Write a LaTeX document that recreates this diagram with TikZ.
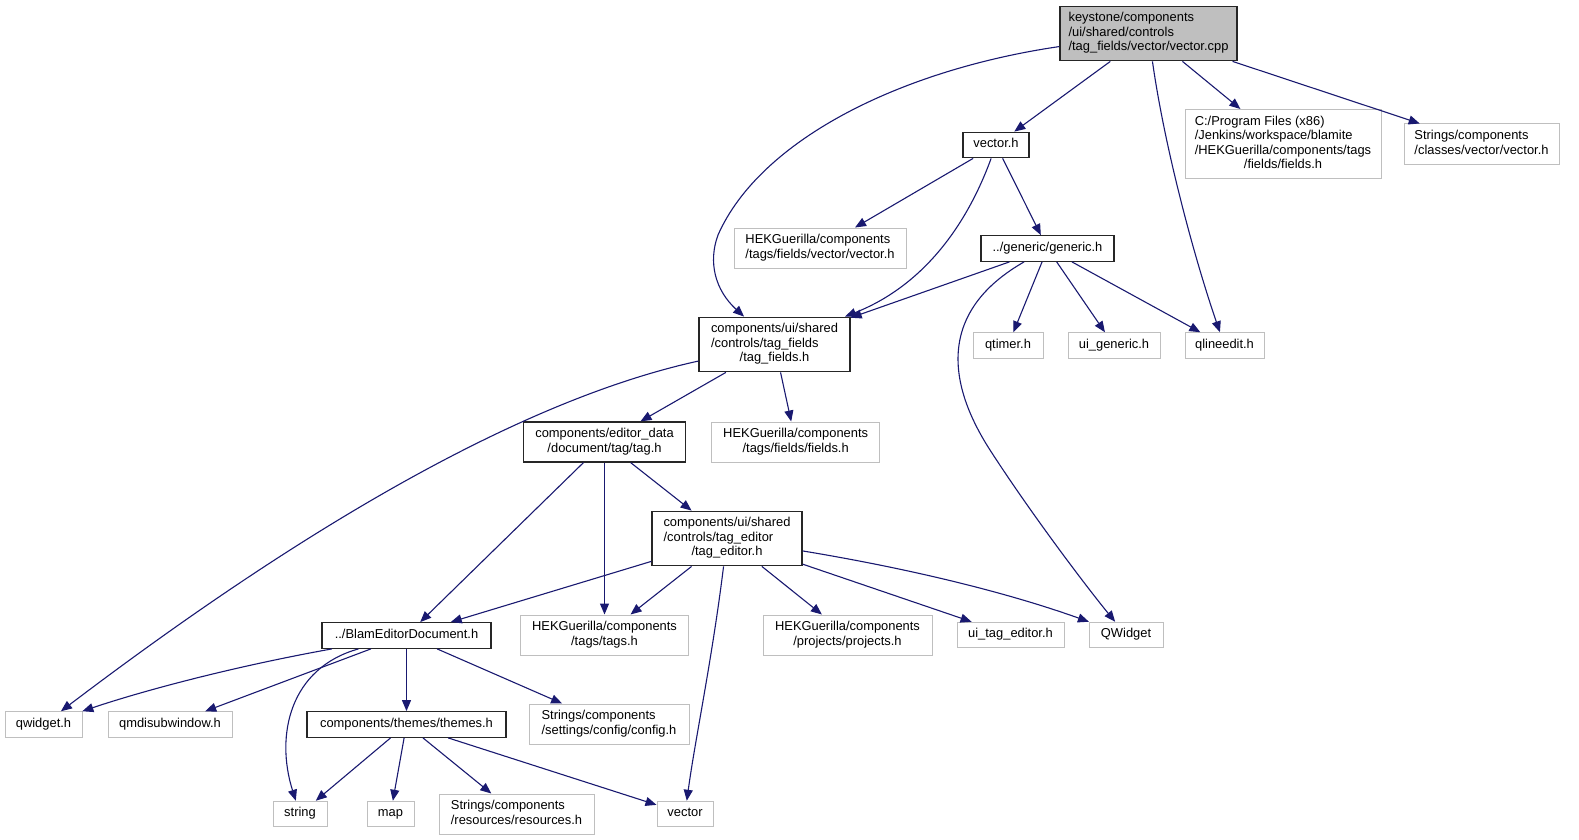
\documentclass[tikz,border=0pt]{standalone}
\usepackage{fontspec}
\setmainfont{Liberation Sans}
\usetikzlibrary{positioning}
\usetikzlibrary{arrows.meta}

\definecolor{edgeblue}{HTML}{191970}
\definecolor{leafgray}{HTML}{BFBFBF}

\newcommand{\flines}[2]{\begin{tabular}{@{}l@{}}#1\\\multicolumn{1}{@{}c@{}}{#2}\end{tabular}}
\newcommand{\fline}[1]{\begin{tabular}{@{}c@{}}#1\end{tabular}}

\begin{document}
\begin{tikzpicture}
	[x=1pt,y=-1pt,node distance=24pt,font=\fontsize{12.9}{14.5}\selectfont,
	file/.style={rectangle,inner xsep=3pt,inner ysep=5.5pt},
	incl/.style={file,draw=black!85,line width=1.3pt},
	leaf/.style={file,draw=leafgray,line width=1pt},
	root/.style={incl,fill=leafgray},
	dep/.style={draw=edgeblue,line width=1.1pt,-{Triangle[length=11pt,width=9pt]}}]
	\useasboundingbox (0,0) rectangle (1579,840);
	\node[root,minimum width=177pt] (cpp) at (1148.5,33.5) {\flines{keystone/components\\/ui/shared/controls}{/tag\_fields/vector/vector.cpp}};
	\node[incl,minimum width=66pt] (vech) at (996,145) {\fline{vector.h}};
	\node[leaf,minimum width=196pt] (fieldsabs) at (1283,144) {\flines{C:/Program Files (x86)\\/Jenkins/workspace/blamite\\/HEKGuerilla/components/tags}{/fields/fields.h}};
	\node[leaf,minimum width=155pt] (strvec) [right=22pt of fieldsabs] {\flines{Strings/components}{/classes/vector/vector.h}};
	\node[leaf,minimum width=172pt] (hekvec) at (820,248) {\flines{HEKGuerilla/components}{/tags/fields/vector/vector.h}};
	\node[incl,minimum width=133pt] (generic) at (1047.5,248.5) {\fline{../generic/generic.h}};
	\node[incl,minimum width=151pt] (tagfields) at (774.5,344.5) {\flines{components/ui/shared\\/controls/tag\_fields}{/tag\_fields.h}};
	\node[leaf,minimum width=70pt] (qtimer) at (1008,345.5) {\fline{qtimer.h}};
	\node[leaf,minimum width=92pt] (uigeneric) [right=of qtimer] {\fline{ui\_generic.h}};
	\node[leaf,minimum width=79pt] (qlineedit) [right=of uigeneric] {\fline{qlineedit.h}};
	\node[incl,minimum width=162pt] (tagh) at (604.5,442) {\flines{components/editor\_data}{/document/tag/tag.h}};
	\node[leaf,minimum width=168pt] (hekfields) [right=25pt of tagh] {\flines{HEKGuerilla/components}{/tags/fields/fields.h}};
	\node[incl,minimum width=150pt] (tageditor) at (727,538.5) {\flines{components/ui/shared\\/controls/tag\_editor}{/tag\_editor.h}};
	\node[incl,minimum width=169pt] (blam) at (406.5,635.5) {\fline{../BlamEditorDocument.h}};
	\node[leaf,minimum width=168pt] (hektags) at (604.5,635) {\flines{HEKGuerilla/components}{/tags/tags.h}};
	\node[leaf,minimum width=169pt] (projects) at (847.5,635) {\flines{HEKGuerilla/components}{/projects/projects.h}};
	\node[leaf,minimum width=107pt] (uitageditor) [right=of projects] {\fline{ui\_tag\_editor.h}};
	\node[leaf,minimum width=74pt] (qwidgetcls) [right=of uitageditor] {\fline{QWidget}};
	\node[leaf,minimum width=77pt] (qwidget) at (43.5,724.5) {\fline{qwidget.h}};
	\node[leaf,minimum width=124pt] (qmdi) [right=25pt of qwidget] {\fline{qmdisubwindow.h}};
	\node[incl,minimum width=199pt] (themes) at (406.5,724.5) {\fline{components/themes/themes.h}};
	\node[leaf,minimum width=160pt] (config) at (609,724) {\flines{Strings/components}{/settings/config/config.h}};
	\node[leaf,minimum width=54pt] (string) at (300,814) {\fline{string}};
	\node[leaf,minimum width=47pt] (map) at (390.5,814) {\fline{map}};
	\node[leaf,minimum width=155pt] (resources) [right=of map] {\flines{Strings/components}{/resources/resources.h}};
	\node[leaf,minimum width=56pt] (vector) at (685,814) {\fline{vector}};
	\draw[dep] (cpp) .. controls (900,70) and (760,140) .. (718,235) .. controls (708,262) and (715,290) .. (tagfields);
	\draw[dep] (cpp) -- (vech);
	\draw[dep] (cpp) .. controls (1165,150) and (1195,260) .. (qlineedit);
	\draw[dep] (cpp) -- (fieldsabs);
	\draw[dep] (cpp) -- (strvec);
	\draw[dep] (vech) -- (hekvec);
	\draw[dep] (vech) .. controls (965,230) and (920,287) .. (tagfields);
	\draw[dep] (vech) -- (generic);
	\draw[dep] (generic) -- (tagfields);
	\draw[dep] (generic) -- (qtimer);
	\draw[dep] (generic) -- (uigeneric);
	\draw[dep] (generic) -- (qlineedit);
	\draw[dep] (generic) .. controls (940,310) and (945,380) .. (990,450) .. controls (1030,512) and (1085,585) .. (qwidgetcls);
	\draw[dep] (tagfields) .. controls (520,400) and (300,530) .. (qwidget);
	\draw[dep] (tagfields) -- (tagh);
	\draw[dep] (tagfields) -- (hekfields);
	\draw[dep] (tagh) -- (blam);
	\draw[dep] (tagh) -- (hektags);
	\draw[dep] (tagh) -- (tageditor);
	\draw[dep] (tageditor) -- (blam);
	\draw[dep] (tageditor) -- (hektags);
	\draw[dep] (tageditor) .. controls (712,660) and (695,740) .. (vector);
	\draw[dep] (tageditor) -- (projects);
	\draw[dep] (tageditor) -- (uitageditor);
	\draw[dep] (tageditor) .. controls (900,567) and (1000,590) .. (qwidgetcls);
	\draw[dep] (blam) .. controls (220,669) and (130,695) .. (qwidget);
	\draw[dep] (blam) -- (qmdi);
	\draw[dep] (blam) .. controls (290,668) and (275,735) .. (string);
	\draw[dep] (blam) -- (themes);
	\draw[dep] (blam) -- (config);
	\draw[dep] (themes) -- (string);
	\draw[dep] (themes) -- (map);
	\draw[dep] (themes) -- (resources);
	\draw[dep] (themes) -- (vector);
\end{tikzpicture}
\end{document}
